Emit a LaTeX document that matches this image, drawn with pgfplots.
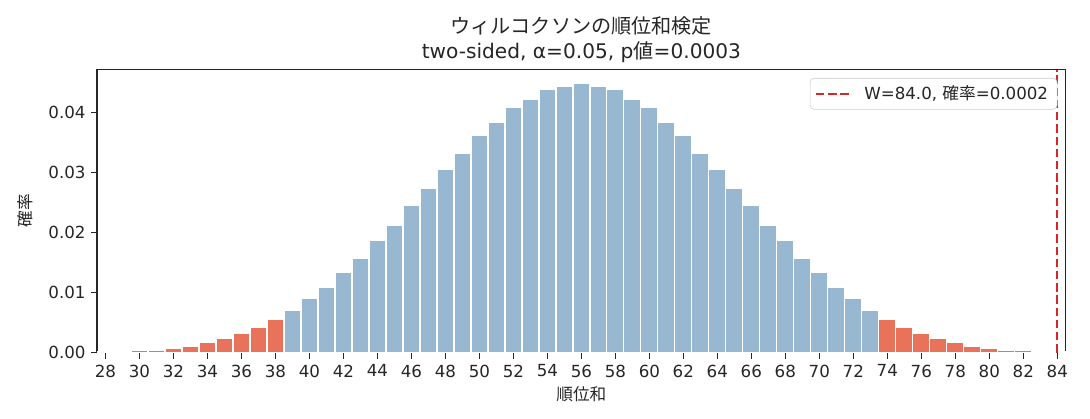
\documentclass[border=0pt]{standalone}
\usepackage{pgfplots}
\pgfplotsset{compat=1.18}
\usepackage{pgfplotstable}
\usepackage{fontspec}
\setmainfont{DejaVu Sans}
\newfontfamily\jp{Noto Sans CJK JP}
\definecolor{barblue}{HTML}{97B8D0}
\definecolor{barred}{HTML}{E8735A}
\definecolor{vline}{HTML}{D62728}
\definecolor{txt}{HTML}{262626}

\pgfplotstableread{
w p
28 0.000155
29 0.000155
30 0.000311
31 0.000466
32 0.000777
33 0.001088
34 0.001709
35 0.002331
36 0.003263
37 0.004196
38 0.005594
}\lowtail
\pgfplotstableread{
w p
39 0.006993
40 0.009013
41 0.010878
42 0.013364
43 0.015695
44 0.018648
45 0.021290
46 0.024553
47 0.027350
48 0.030614
49 0.033256
50 0.036208
51 0.038384
52 0.040870
53 0.042269
54 0.043823
55 0.044289
56 0.044911
57 0.044289
58 0.043823
59 0.042269
60 0.040870
61 0.038384
62 0.036208
63 0.033256
64 0.030614
65 0.027350
66 0.024553
67 0.021290
68 0.018648
69 0.015695
70 0.013364
71 0.010878
72 0.009013
73 0.006993
}\middle
\pgfplotstableread{
w p
74 0.005594
75 0.004196
76 0.003263
77 0.002331
78 0.001709
79 0.001088
80 0.000777
81 0.000466
82 0.000311
83 0.000155
84 0.000155
}\hightail

\begin{document}
\begin{tikzpicture}
\useasboundingbox (0,0) rectangle (784.8pt,301.68pt);
\begin{axis}[
  at={(69.84pt,47.74pt)}, anchor=south west,
  scale only axis,
  width=697.5pt, height=203.8pt,
  xmin=27.5, xmax=84.5,
  ymin=0, ymax=0.04716,
  xtick={28,30,...,84},
  ytick={0,0.01,0.02,0.03,0.04},
  scaled y ticks=false,
  yticklabel style={xshift=-0.5pt, /pgf/number format/fixed, /pgf/number format/fixed zerofill, /pgf/number format/precision=2},
  /pgf/number format/assume math mode=true,
  tick label style={font=\fontsize{12}{14}\selectfont, text=txt},
  xticklabel style={yshift=-1pt},
  xtick pos=bottom, ytick pos=left,
  tick align=outside,
  major tick length=4.2pt,
  every tick/.style={txt, line width=1pt},
  axis line style={line width=1pt, txt},
  legend style={at={(1,1)}, anchor=north east, xshift=-6pt, yshift=-6pt,
    draw=black!20, rounded corners=3pt, font=\fontsize{12}{14}\selectfont,
    text=txt, inner xsep=0pt, inner ysep=2.4pt,
    nodes={inner xsep=0pt, inner ysep=3pt, text depth=0.15em}},
  legend cell align=left,
  legend image code/.code={\path[draw=none,fill=none] (-4.3pt,0pt) rectangle (34.8pt,0pt); \draw[#1] (0pt,0pt) -- (24pt,0pt);},
]
\addplot[ybar, bar width=1, bar shift=0pt, fill=barred, draw=white, line width=0.9pt, forget plot] table[x=w,y=p] {\lowtail};
\addplot[ybar, bar width=1, bar shift=0pt, fill=barblue, draw=white, line width=0.9pt, forget plot] table[x=w,y=p] {\middle};
\addplot[ybar, bar width=1, bar shift=0pt, fill=barred, draw=white, line width=0.9pt, forget plot] table[x=w,y=p] {\hightail};
\addplot[vline, line width=1.6pt, dash pattern=on 6pt off 2.8pt] coordinates {(84,0) (84,0.04716)};
\addlegendentry{W=84.0, {\jp 確率}=0.0002\hspace*{6.5pt}}
\end{axis}
\node[anchor=base, font=\fontsize{14.5}{17}\selectfont, text=txt] at (418.6pt,277.4pt) {\jp ウィルコクソンの順位和検定};
\node[anchor=base, font=\fontsize{14.5}{17}\selectfont, text=txt] at (418.6pt,259.4pt) {two-sided, α=0.05, p{\jp 値}=0.0003};
\node[anchor=base, font=\fontsize{12}{14}\selectfont, text=txt] at (418.6pt,13.4pt) {\jp 順位和};
\node[anchor=center, rotate=90, font=\fontsize{12}{14}\selectfont, text=txt] at (18pt,149.8pt) {\jp 確率};
\end{tikzpicture}
\end{document}
